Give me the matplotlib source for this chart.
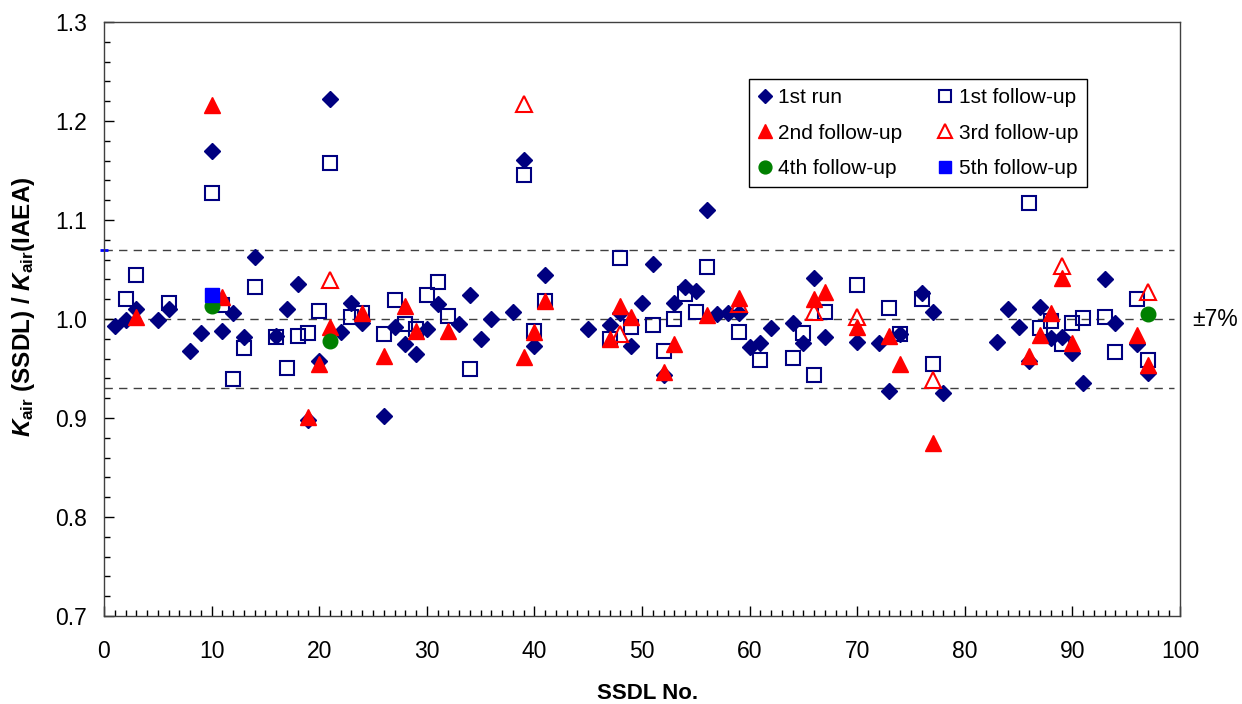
import matplotlib
matplotlib.use("Agg")
import matplotlib.pyplot as plt
import matplotlib.transforms as mtransforms
from matplotlib.ticker import MultipleLocator, FormatStrFormatter

plt.rcParams['font.family'] = ['Liberation Sans', 'DejaVu Sans']
plt.rcParams['mathtext.fontset'] = 'custom'
plt.rcParams['mathtext.rm'] = 'Liberation Sans:bold'
plt.rcParams['mathtext.it'] = 'Liberation Sans:italic:bold'
plt.rcParams['mathtext.bf'] = 'Liberation Sans:bold'

# ---- data ----
run1_x = [1, 2, 3, 5, 6, 8, 9, 10, 11, 12, 13, 14, 16, 17, 18, 19, 20, 21, 22, 23, 24,
          26, 27, 28, 29, 30, 31, 33, 34, 35, 36, 38, 39, 40, 41, 45, 47, 48, 49, 50,
          51, 52, 53, 54, 55, 56, 57, 58, 59, 60, 61, 62, 64, 65, 66, 67, 70, 72, 73, 74,
          76, 77, 78, 83, 84, 85, 86, 87, 88, 89, 90, 91, 93, 94, 96, 97]
run1_y = [0.993, 0.999, 1.010, 0.999, 1.010, 0.968, 0.986, 1.170, 0.988, 1.006, 0.982, 1.063,
          0.983, 1.010, 1.035, 0.898, 0.958, 1.222, 0.987, 1.016, 0.996,
          0.902, 0.992, 0.975, 0.965, 0.990, 1.015, 0.995, 1.024, 0.980, 1.000, 1.007, 1.161,
          0.973, 1.044, 0.990, 0.994, 1.006, 0.973, 1.016,
          1.056, 0.943, 1.016, 1.032, 1.028, 1.110, 1.005, 1.006, 1.006, 0.972, 0.976, 0.991,
          0.996, 0.976, 1.041, 0.982, 0.977, 0.976, 0.927, 0.985,
          1.026, 1.007, 0.925, 0.977, 1.010, 0.992, 0.958, 1.012, 0.981, 0.982, 0.966, 0.935,
          1.040, 0.996, 0.975, 0.945]

fu1_x = [2, 3, 6, 10, 11, 12, 13, 14, 16, 17, 18, 19, 20, 21, 23, 24, 26, 27, 28, 29, 30,
         31, 32, 34, 39, 40, 41, 47, 48, 49, 51, 52, 53, 54, 55, 56, 59, 61, 64, 65, 66,
         67, 70, 73, 74, 76, 77, 86, 87, 88, 89, 90, 91, 93, 94, 96, 97]
fu1_y = [1.020, 1.044, 1.016, 1.127, 1.014, 0.939, 0.971, 1.032, 0.982, 0.951, 0.983, 0.986,
         1.008, 1.158, 1.002, 1.006, 0.985, 1.019, 0.995, 0.990, 1.024,
         1.037, 1.003, 0.950, 1.145, 0.988, 1.018, 0.980, 1.062, 0.992, 0.994, 0.968, 1.000,
         1.025, 1.007, 1.053, 0.987, 0.959, 0.961, 0.986, 0.943,
         1.007, 1.034, 1.011, 0.985, 1.020, 0.955, 1.117, 0.991, 0.998, 0.975, 0.996, 1.001,
         1.002, 0.967, 1.020, 0.959]

fu2_x = [3, 10, 11, 19, 20, 21, 24, 26, 28, 29, 32, 39, 40, 41, 47, 48, 49, 52, 53, 56,
         59, 66, 67, 70, 73, 74, 77, 86, 87, 88, 89, 90, 96, 97]
fu2_y = [1.002, 1.216, 1.022, 0.901, 0.955, 0.992, 1.006, 0.963, 1.013, 0.988, 0.988, 0.962,
         0.987, 1.018, 0.980, 1.013, 1.002, 0.946, 0.975, 1.004,
         1.021, 1.020, 1.027, 0.992, 0.983, 0.955, 0.875, 0.963, 0.984, 1.006, 1.041, 0.976,
         0.984, 0.954]

fu3_x = [21, 39, 48, 59, 66, 70, 77, 89, 97]
fu3_y = [1.039, 1.217, 0.985, 1.015, 1.007, 1.002, 0.938, 1.054, 1.027]

fu4_x = [10, 21, 97]
fu4_y = [1.013, 0.978, 1.005]

fu5_x = [10]
fu5_y = [1.024]

limit_x = [0, 99.4]
limit_upper = [1.07, 1.07]
limit_center = [1.0, 1.0]
limit_lower = [0.93, 0.93]

# ---- figure ----
fig = plt.figure(figsize=(12.42, 7.04), dpi=100)
ax = fig.add_axes([104 / 1242, 1 - 616 / 704, (1180 - 104) / 1242, (616 - 22) / 704])

for ly in (limit_upper, limit_center, limit_lower):
    ax.plot(limit_x, ly, color='#404040', lw=1.0, ls=(0, (6, 4.5)), zorder=1)
ax.plot([limit_x[0]], [limit_upper[0]], marker='_', color='#0000FF', ms=6, mew=2,
        clip_on=False, zorder=1)

navy = '#000080'
red = '#FF0000'
h1 = ax.plot(run1_x, run1_y, ls='none', marker='D', ms=8, color=navy, mec=navy,
             label='1st run', zorder=3)[0]
h2 = ax.plot(fu1_x, fu1_y, ls='none', marker='s', ms=10.5, mfc='none', mec=navy, mew=1.5,
             label='1st follow-up', zorder=4)[0]
h3 = ax.plot(fu2_x, fu2_y, ls='none', marker='^', ms=11, color=red, mec=red,
             label='2nd follow-up', zorder=5)[0]
h4 = ax.plot(fu3_x, fu3_y, ls='none', marker='^', ms=11, mfc='none', mec=red, mew=1.5,
             label='3rd follow-up', zorder=6)[0]
h5 = ax.plot(fu4_x, fu4_y, ls='none', marker='o', ms=10.5, color='#008000', mec='#008000',
             label='4th follow-up', zorder=7)[0]
h6 = ax.plot(fu5_x, fu5_y, ls='none', marker='s', ms=10.5, color='#0000FF', mec='#0000FF',
             label='5th follow-up', zorder=8)[0]

ax.set_xlim(0, 100)
ax.set_ylim(0.7, 1.3)
ax.xaxis.set_major_locator(MultipleLocator(10))
ax.xaxis.set_minor_locator(MultipleLocator(1))
ax.yaxis.set_major_locator(MultipleLocator(0.1))
ax.yaxis.set_minor_locator(MultipleLocator(0.02))
ax.yaxis.set_major_formatter(FormatStrFormatter('%.1f'))
ax.tick_params(axis='both', which='both', direction='in', labelsize=16.5, color='black')
ax.tick_params(axis='both', which='major', length=7, width=1)
ax.tick_params(axis='both', which='minor', length=4.5, width=1)
ax.tick_params(axis='x', which='major', pad=17)
ax.tick_params(axis='y', which='major', pad=12.5)
for s in ax.spines.values():
    s.set_linewidth(1.0)
    s.set_color('#404040')

ax.set_xlabel('SSDL No.', fontsize=16, fontweight='bold')
ax.xaxis.set_label_coords((648 - 104) / 1076, (616 - 683) / 594)
ax.set_ylabel(r'$\mathit{K}_{\mathrm{air}}$ (SSDL) / $\mathit{K}_{\mathrm{air}}$(IAEA)',
              fontsize=17.5, fontweight='bold')
ax.yaxis.set_label_coords((37 - 104) / 1076, (616 - 307) / 594)

ax.text(1.011, 1.0, '±7%', fontsize=16.5, ha='left', va='center', clip_on=False,
        transform=mtransforms.blended_transform_factory(ax.transAxes, ax.transData))

handles = [h1, h3, h5, h2, h4, h6]
leg = ax.legend(handles=handles, labels=[h.get_label() for h in handles], ncol=2,
                loc='upper left',
                bbox_to_anchor=((749 - 104) / 1076, (616 - 79) / 594),
                fontsize=15, frameon=True, fancybox=False, edgecolor='black',
                handlelength=0.6, handletextpad=0.35, columnspacing=1.75,
                labelspacing=0.78, borderpad=0.45, markerscale=0.88,
                borderaxespad=0)
leg.get_frame().set_linewidth(1.0)
leg.get_frame().set_facecolor('white')
leg.get_frame().set_alpha(1)

fig.savefig('out.png', dpi=100)
